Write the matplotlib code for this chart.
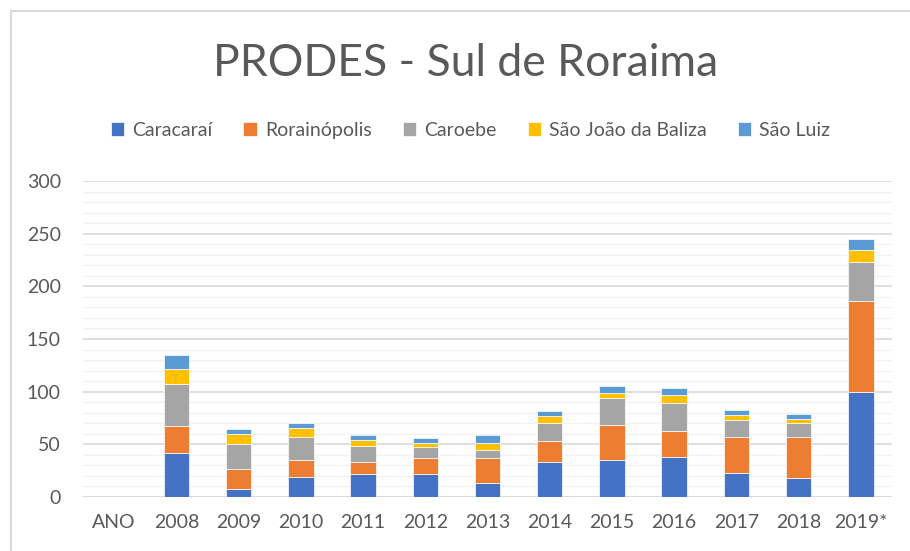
import numpy as np
import matplotlib.pyplot as plt
from matplotlib.ticker import MultipleLocator
from matplotlib.patches import Rectangle

anos = ["ANO", "2008", "2009", "2010", "2011", "2012", "2013", "2014", "2015", "2016", "2017", "2018", "2019*"]
caracarai = [0, 41.5, 8, 19.3, 21.5, 21.5, 13.6, 33.2, 35.4, 38, 22.5, 18.4, 100]
rorainopolis = [0, 26, 18.5, 16, 11.7, 15.2, 23.1, 19.7, 33.3, 25, 34.5, 38.6, 86.1]
caroebe = [0, 39.5, 24, 22, 15, 11.1, 8.2, 17.1, 25.6, 26.3, 16.4, 13, 37.1]
sao_joao = [0, 14.5, 9, 8, 6, 3.5, 6.7, 6.9, 4.5, 7.3, 4.5, 4.4, 11.4]
sao_luiz = [0, 13.5, 5, 4.5, 4.5, 4.7, 7, 4.8, 6.9, 6.9, 4.4, 4.7, 10.1]

series = [("Caracaraí", caracarai, "#4472C4"),
          ("Rorainópolis", rorainopolis, "#ED7D31"),
          ("Caroebe", caroebe, "#A5A5A5"),
          ("São João da Baliza", sao_joao, "#FFC000"),
          ("São Luiz", sao_luiz, "#5B9BD5")]

txt = "#595959"
plt.rcParams['font.family'] = ['Lato', 'DejaVu Sans']

fig = plt.figure(figsize=(9.1, 5.51), dpi=100)
ax = fig.add_axes([83/910, 1 - 497/551, 809/910, 316/551])

x = np.arange(len(anos))
bottom = np.zeros(len(anos))
for name, vals, color in series:
    ax.bar(x, vals, 0.41, bottom=bottom, color=color, label=name,
           edgecolor="white", linewidth=0.5, zorder=3)
    bottom += np.array(vals)

ax.set_xlim(-0.5, len(anos) - 0.5)
ax.set_ylim(0, 300)
ax.yaxis.set_major_locator(MultipleLocator(50))
ax.yaxis.set_minor_locator(MultipleLocator(10))
ax.grid(axis="y", which="major", color="#D9D9D9", linewidth=1.2, zorder=0)
ax.grid(axis="y", which="minor", color="#F2F2F2", linewidth=1.0, zorder=0)
ax.set_xticks(x)
ax.set_xticklabels(anos)
for s in ax.spines.values():
    s.set_visible(False)
ax.axhline(0, color="#D9D9D9", linewidth=1.2, zorder=2)
ax.tick_params(axis="both", which="both", length=0, labelsize=14, colors=txt)
ax.tick_params(axis="x", pad=12)
ax.tick_params(axis="y", pad=16)

fig.text(0.512, 0.885, "PRODES - Sul de Roraima", ha="center", va="center",
         fontsize=32, color=txt)

fig.legend(loc="center", bbox_to_anchor=(0.517, 0.764), ncol=5, frameon=False,
           fontsize=14, labelcolor=txt, handlelength=0.7, handleheight=0.7,
           handletextpad=0.4, columnspacing=1.6)

fig.patches.append(Rectangle((11/910, -0.1), 1.2, 1 - 11/551 + 0.1,
                             transform=fig.transFigure, fill=False,
                             edgecolor="#D9D9D9", linewidth=1.5))

fig.savefig("out.png", dpi=100)
